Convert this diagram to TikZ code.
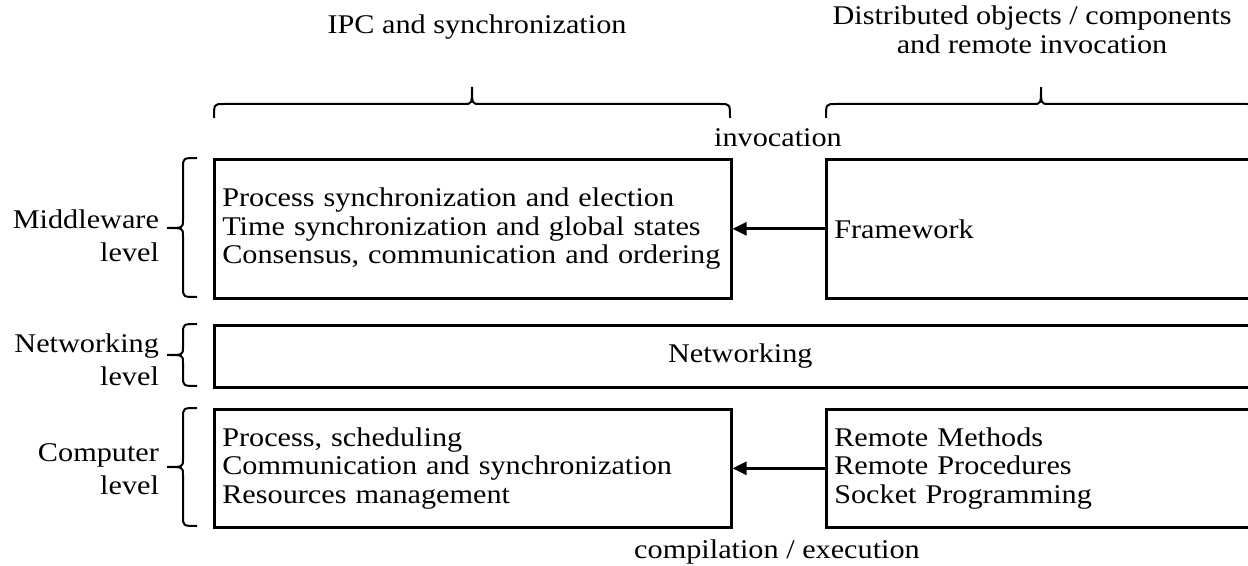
\documentclass[tikz,border=0pt]{standalone}
\usepackage{fontspec}
\setmainfont{Liberation Serif}[FakeStretch=1.12]
\usetikzlibrary{arrows.meta}
\tikzset{
  layerbox/.style={draw, line width=1.3pt, inner xsep=4pt, inner ysep=0pt, align=left, anchor=north west},
  bracestroke/.style={line width=1pt},
}
\begin{document}
\begin{tikzpicture}[x=0.5pt,y=-0.5pt,font=\fontsize{13.5}{14.25}\selectfont,>={Triangle[length=7pt,width=6.5pt]}]
\useasboundingbox (0,0) rectangle (1248,566);

% column titles
\node[anchor=base] (ipctitle) at (477,34) {IPC and synchronization};
\node[align=center] (distitle) at (1032,30) {Distributed objects / components\\and remote invocation};

% boxes
\node[layerbox, text width=250.5pt, minimum height=69.5pt] (midsync) at (213,158) {Process synchronization and election\\Time synchronization and global states\\Consensus, communication and ordering};
\node[layerbox, text width=212pt, minimum height=69.5pt] (framework) at (825,158) {Framework};
\node[layerbox, align=center, text width=518pt, minimum height=31pt] (networking) at (213,324) {Networking};
\node[layerbox, text width=250.5pt, minimum height=59pt] (compproc) at (213,408) {Process, scheduling\\Communication and synchronization\\Resources management};
\node[layerbox, text width=212pt, minimum height=59pt] (remote) at (825,408) {Remote Methods\\Remote Procedures\\Socket Programming};

\draw[->, line width=1.3pt] (framework) -- (midsync);
\draw[->, line width=1.3pt] (remote) -- (compproc);
\node[anchor=base] (invoc) at (778,147) {invocation};
\node[anchor=base] (compil) at (777,559) {compilation / execution};

% level labels
\node[align=right, anchor=east, font=\fontsize{13.5}{16.5}\selectfont] (mwlabel) at (166,236) {Middleware\\level};
\node[align=right, anchor=east, font=\fontsize{13.5}{16.5}\selectfont] (netlabel) at (166,360) {Networking\\level};
\node[align=right, anchor=east, font=\fontsize{13.5}{16.5}\selectfont] (complabel) at (166,469) {Computer\\level};

% braces
\draw[bracestroke] (214,118) .. controls (214,104) .. (224,104) -- (464,104) .. controls (472,104) .. (472,87) .. controls (472,104) .. (480,104) -- (720,104) .. controls (730,104) .. (730,118);
\draw[bracestroke] (826,118) .. controls (826,104) .. (836,104) -- (1033,104) .. controls (1041,104) .. (1041,87) .. controls (1041,104) .. (1049,104) -- (1246,104) .. controls (1256,104) .. (1256,118);
\draw[bracestroke] (197,158) .. controls (183,158) .. (183,168) -- (183,220) .. controls (183,228) .. (167,228) .. controls (183,228) .. (183,236) -- (183,287) .. controls (183,297) .. (197,297);
\draw[bracestroke] (197,324) .. controls (183,324) .. (183,334) -- (183,347) .. controls (183,355) .. (167,355) .. controls (183,355) .. (183,363) -- (183,376) .. controls (183,386) .. (197,386);
\draw[bracestroke] (197,408) .. controls (183,408) .. (183,418) -- (183,459) .. controls (183,467) .. (167,467) .. controls (183,467) .. (183,475) -- (183,516) .. controls (183,526) .. (197,526);
\end{tikzpicture}
\end{document}
